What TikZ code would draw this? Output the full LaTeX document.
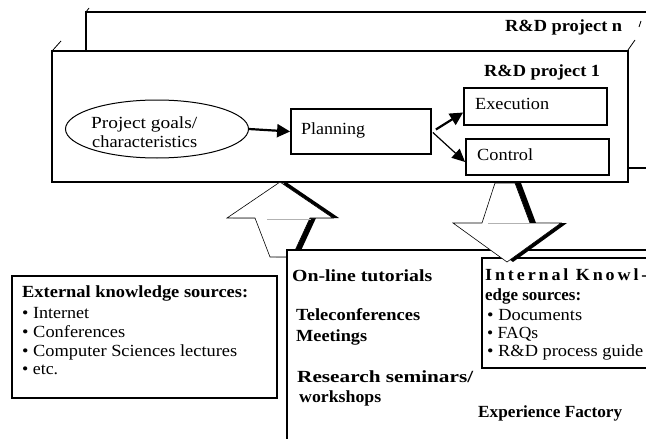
\documentclass[tikz,border=0pt]{standalone}
\usepackage{graphicx}
\usepackage{fontspec}
\setmainfont{Liberation Serif}[FakeStretch=1.06]
\newfontfamily\spacedfont{Liberation Serif}[FakeStretch=1.06,LetterSpace=17]
\newcommand\fitto[2]{\resizebox{#1}{\height}{#2}}
\usetikzlibrary{arrows.meta,calc,shapes.geometric}
\tikzset{
  frame/.style={draw, line width=1.6pt, fill=white, inner sep=0pt, rectangle},
  stepbox/.style={draw, line width=1.8pt, fill=white, inner sep=0pt, rectangle},
  txt/.style={inner sep=0pt, anchor=base west, font=\fontsize{17}{19}\selectfont},
  btxt/.style={inner sep=0pt, anchor=base west, font=\fontsize{17}{19}\selectfont\bfseries},
  tick/.style={line width=0.8pt},
  flow/.style={line width=2.2pt, -{Triangle[length=13pt,width=13pt]}},
  thinflow/.style={line width=1.2pt, -{Triangle[length=13pt,width=12pt]}},
  blockarrow/.style={draw, line width=0.6pt, fill=white},
  blockshadow/.style={fill=black},
  seam/.style={draw=gray!60, line width=0.6pt}
}
\begin{document}
\begin{tikzpicture}[x=1pt,y=-1pt]
\path[use as bounding box] (0,0) rectangle (646,439);
\clip (0,0) rectangle (646,439);
\fill[white] (0,0) rectangle (646,439);

% back project box
\node[frame, minimum width=614pt, minimum height=156pt] (back) at (393,90) {};
\draw[tick] (86,12) -- (89,8);
\draw[tick] (639,27) -- (641,21);
\node[btxt] (backlabel) at (505,31) {\fitto{117pt}{R\&D project n}};

% front project box
\node[frame, minimum width=576pt, minimum height=131pt] (front) at (340,116.5) {};
\draw[tick] (53,50) -- (61,41);
\draw[tick] (628,50) -- (635,40);
\node[btxt] (frontlabel) at (484,76) {\fitto{116pt}{R\&D project 1}};

\node[draw, ellipse, line width=1pt, inner sep=0pt, minimum width=183pt, minimum height=58pt] (goals) at (157,129) {};
\node[txt] (goalsA) at (91,128) {\fitto{106pt}{Project goals/}};
\node[txt] (goalsB) at (92,147) {\fitto{105pt}{characteristics}};

\node[stepbox, minimum width=140pt, minimum height=45pt] (plan) at (361,131.5) {};
\node[txt] (planlabel) at (301,134) {\fitto{64pt}{Planning}};
\node[stepbox, minimum width=143pt, minimum height=37pt] (exec) at (535.5,106.5) {};
\node[txt] (execlabel) at (475,109) {\fitto{74pt}{Execution}};
\node[stepbox, minimum width=143pt, minimum height=36pt] (ctrl) at (537.5,157) {};
\node[txt] (ctrllabel) at (477,160) {\fitto{56pt}{Control}};

\draw[flow] (goals.east) -- (plan.west);
\draw[flow] ($(plan.east)+(4,-2)$) -- ($(exec.west)+(0,6)$);
\draw[thinflow] ($(plan.east)+(1,1)$) -- ($(ctrl.west)+(0,5)$);

% up block arrow (into the project)
\fill[blockshadow] (286,182) -- (339,218) -- (316,218) -- (298,257) -- (276,257) -- (261,218) -- (233,218) -- cycle;
\path[blockarrow] (280,182) -- (333,218) -- (310,218) -- (292,257) -- (270,257) -- (255,218) -- (227,218) -- cycle;
\draw[seam] (267,219) -- (311,219);

% external knowledge sources
\node[stepbox, minimum width=265pt, minimum height=122pt] (ext) at (144.5,337) {};
\node[btxt] (extA) at (22,297) {\fitto{226pt}{External knowledge sources:}};
\node[txt] (extB) at (22,318) {\fitto{67pt}{• Internet}};
\node[txt] (extC) at (22,337) {\fitto{103pt}{• Conferences}};
\node[txt] (extD) at (22,356) {\fitto{215pt}{• Computer Sciences lectures}};
\node[txt] (extE) at (22,374) {\fitto{36pt}{• etc.}};

% experience factory
\node[stepbox, minimum width=473pt, minimum height=270pt] (ef) at (523.5,385) {};
\node[stepbox, minimum width=278pt, minimum height=110pt] (int) at (621,313) {};

% down block arrow (out of the project)
\fill[blockshadow] (501,183) -- (521,183) -- (536,223) -- (567,223) -- (513,262) -- (459,223) -- (488,223) -- cycle;
\path[blockarrow] (495,183) -- (515,183) -- (530,223) -- (561,223) -- (507,262) -- (453,223) -- (482,223) -- cycle;
\draw[seam] (488,223) -- (550,223);

\node[btxt] (efA) at (292,281) {\fitto{140pt}{On-line tutorials}};
\node[btxt] (efB) at (296,320) {\fitto{124pt}{Teleconferences}};
\node[btxt] (efC) at (296,341) {\fitto{71pt}{Meetings}};
\node[btxt] (efD) at (297,382) {\fitto{176pt}{Research seminars/}};
\node[btxt] (efE) at (299,402) {\fitto{82pt}{workshops}};
\node[btxt] (efF) at (478,417) {\fitto{144pt}{Experience Factory}};

\node[txt] (intA) at (485,280) {\spacedfont\bfseries Internal Knowl-};
\node[btxt] (intB) at (485,300) {\fitto{96pt}{edge sources:}};
\node[txt] (intC) at (487,320) {\fitto{95pt}{• Documents}};
\node[txt] (intD) at (487,338) {\fitto{51pt}{• FAQs}};
\node[txt] (intE) at (487,356) {\fitto{156pt}{• R\&D process guide}};
\end{tikzpicture}
\end{document}
